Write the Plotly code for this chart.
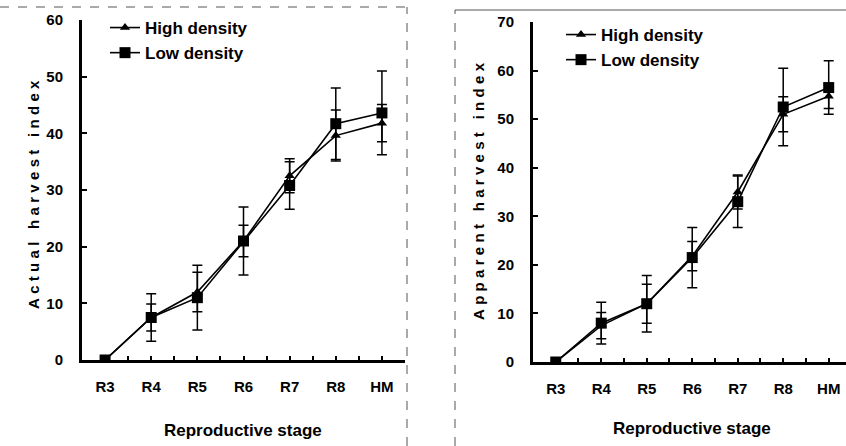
import plotly.graph_objects as go

stages = ["R3", "R4", "R5", "R6", "R7", "R8", "HM"]

# Actual harvest index (left panel)
actual_high = [0, 7.5, 12.0, 21.0, 32.5, 39.6, 41.8]
actual_high_err = [0, 2.4, 3.5, 2.8, 3.0, 4.5, 3.3]
actual_low = [0, 7.5, 11.0, 21.0, 30.8, 41.7, 43.6]
actual_low_err = [0, 4.2, 5.7, 6.0, 4.2, 6.3, 7.4]

# Apparent harvest index (right panel)
apparent_high = [0, 7.5, 12.0, 21.8, 35.0, 51.0, 54.7]
apparent_high_err = [0, 2.7, 4.0, 3.0, 3.5, 3.6, 2.5]
apparent_low = [0, 8.0, 12.0, 21.5, 33.0, 52.5, 56.5]
apparent_low_err = [0, 4.3, 5.8, 6.2, 5.3, 8.0, 5.5]

series_names = ["High density", "Low density"]

xpos = list(range(len(stages)))
FONT = "Arial, 'Liberation Sans', sans-serif"
W, H = 846, 446

fig = go.Figure()

def add_pair(high, high_err, low, low_err, xa, ya, legend):
    fig.add_trace(go.Scatter(
        x=xpos, y=high, name=series_names[0], mode="lines+markers",
        line=dict(color="black", width=1.6),
        marker=dict(symbol="triangle-up", size=9, color="black"),
        error_y=dict(type="data", array=high_err, color="black", thickness=1.5, width=5),
        xaxis=xa, yaxis=ya, legend=legend))
    fig.add_trace(go.Scatter(
        x=xpos, y=low, name=series_names[1], mode="lines+markers",
        line=dict(color="black", width=1.6),
        marker=dict(symbol="square", size=11, color="black"),
        error_y=dict(type="data", array=low_err, color="black", thickness=1.5, width=5),
        xaxis=xa, yaxis=ya, legend=legend))

add_pair(actual_high, actual_high_err, actual_low, actual_low_err, "x", "y", "legend")
add_pair(apparent_high, apparent_high_err, apparent_low, apparent_low_err, "x2", "y2", "legend2")

tick_font = dict(family=FONT, size=15, color="black", weight="bold")
xcommon = dict(
    tickmode="array", tickvals=xpos, ticktext=stages,
    showline=True, linecolor="black", linewidth=3,
    ticks="inside", ticklen=4, tickwidth=2, tickcolor="black",
    minor=dict(dtick=0.5, tick0=0.5, ticks="inside", ticklen=4, tickwidth=2, tickcolor="black"),
    showgrid=False, zeroline=False,
    tickfont=tick_font,
    ticklabelstandoff=11,
    automargin=False,
)
ycommon = dict(
    showline=True, linecolor="black", linewidth=3,
    ticks="inside", ticklen=5, tickwidth=2, tickcolor="black",
    showgrid=False, zeroline=False,
    tickfont=tick_font,
    ticklabelstandoff=13,
    automargin=False,
)

legend_font = dict(family=FONT, size=17, color="black", weight="bold")
fig.update_layout(
    width=W, height=H,
    margin=dict(l=0, r=0, t=0, b=0, autoexpand=False),
    paper_bgcolor="white", plot_bgcolor="white",
    showlegend=True,
    xaxis=dict(domain=[82 / W, 405 / W], range=[-0.5, 6.5], anchor="y", **xcommon),
    yaxis=dict(domain=[1 - 360 / H, 1 - 20 / H], range=[0, 60], dtick=10, anchor="x", **ycommon),
    xaxis2=dict(domain=[533 / W, 1.0], range=[-0.5, 6.38], anchor="y2", **xcommon),
    yaxis2=dict(domain=[1 - 362 / H, 1 - 22 / H], range=[0, 70], dtick=10, anchor="x2", **ycommon),
    legend=dict(x=105 / W, y=1 - 10 / H, xanchor="left", yanchor="top",
                font=legend_font,
                bgcolor="rgba(0,0,0,0)", tracegroupgap=0, itemwidth=30),
    legend2=dict(x=561 / W, y=1 - 17 / H, xanchor="left", yanchor="top",
                 font=legend_font,
                 bgcolor="rgba(0,0,0,0)", tracegroupgap=0, itemwidth=30),
)

ann_font = dict(family=FONT, size=15, color="black", weight="bold")
fig.add_annotation(text='<span style="letter-spacing:4.3px">Actual harvest index</span>',
                   xref="paper", yref="paper", x=33 / W, y=1 - 193 / H,
                   xanchor="center", yanchor="middle",
                   textangle=-90, showarrow=False, font=ann_font)
fig.add_annotation(text='<span style="letter-spacing:4.3px">Apparent harvest index</span>',
                   xref="paper", yref="paper", x=478 / W, y=1 - 190 / H,
                   xanchor="center", yanchor="middle",
                   textangle=-90, showarrow=False, font=ann_font)
title_font = dict(family=FONT, size=17, color="black", weight="bold")
fig.add_annotation(text="Reproductive stage", xref="paper", yref="paper",
                   x=243 / W, y=1 - 430 / H, xanchor="center", yanchor="middle",
                   showarrow=False, font=title_font)
fig.add_annotation(text="Reproductive stage", xref="paper", yref="paper",
                   x=692 / W, y=1 - 428 / H, xanchor="center", yanchor="middle",
                   showarrow=False, font=title_font)

# scan border artifacts
border = dict(color="#555555", width=1, dash="dash")
fig.add_shape(type="line", xref="paper", yref="paper", x0=0, x1=408 / W, y0=1 - 7 / H, y1=1 - 7 / H, line=border)
fig.add_shape(type="line", xref="paper", yref="paper", x0=407 / W, x1=407 / W, y0=0, y1=1 - 7 / H, line=border)
fig.add_shape(type="line", xref="paper", yref="paper", x0=455 / W, x1=1, y0=1 - 10 / H, y1=1 - 10 / H,
              line=dict(color="#555555", width=1))
fig.add_shape(type="line", xref="paper", yref="paper", x0=455 / W, x1=455 / W, y0=0, y1=1 - 10 / H, line=border)

fig.write_html("out.html", config={"displayModeBar": False},
               post_script="document.body.style.margin='0';")
